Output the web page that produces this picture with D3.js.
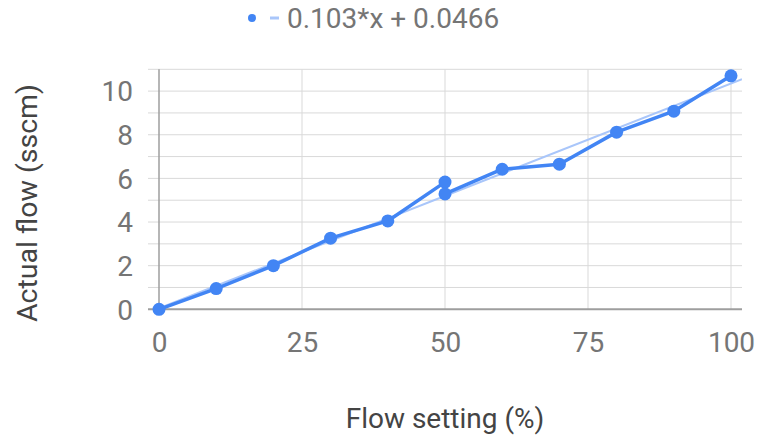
<!DOCTYPE html>
<html>
<head>
<meta charset="utf-8">
<script src="https://cdn.jsdelivr.net/npm/d3@7"></script>
<style>
  html, body { margin: 0; padding: 0; background: #fff; }
  svg { display: block; font-family: Roboto, "Noto Sans", sans-serif; }
</style>
</head>
<body>
<svg id="chart" width="758" height="439"></svg>
<script>
// Flow calibration: setting (%) vs measured flow (sscm)
const flowSetting = [0, 10, 20, 30, 40, 50, 50, 60, 70, 80, 90, 100];
const actualFlow  = [0, 0.95, 2.0, 3.26, 4.05, 5.83, 5.29, 6.42, 6.65, 8.12, 9.08, 10.70];

// Linear trendline as stated in the legend
const trendSlope = 0.103;
const trendIntercept = 0.0466;
const trendLabel = "0.103*x + 0.0466";

const xTicks = [0, 25, 50, 75, 100];
const yTicks = [0, 2, 4, 6, 8, 10];
const yGrid  = [0, 1, 2, 3, 4, 5, 6, 7, 8, 9, 10, 11];

const xTitle = "Flow setting (%)";
const yTitle = "Actual flow (sscm)";

const blue = "#4285f4";
const trendColor = "#a9c6fa";
const tickColor = "#757575";
const titleColor = "#444444";
const fontSize = 28;

const svg = d3.select("#chart");

// chart area
const area = { left: 148, right: 742, top: 69.3, bottom: 309.3 };

const x = d3.scaleLinear().domain([0, 100]).range([159, 731]);
const y = d3.scaleLinear().domain([0, 11]).range([area.bottom, area.top]);

svg.append("defs").append("clipPath").attr("id", "plotClip")
  .append("rect")
  .attr("x", area.left).attr("y", area.top)
  .attr("width", area.right - area.left).attr("height", area.bottom - area.top);

// horizontal gridlines
svg.append("g")
  .selectAll("line").data(yGrid.filter(d => d !== 0)).join("line")
  .attr("x1", area.left).attr("x2", area.right)
  .attr("y1", d => y(d)).attr("y2", d => y(d))
  .attr("stroke", "#d9d9d9").attr("stroke-width", 1);

// vertical gridlines
svg.append("g")
  .selectAll("line").data(xTicks.filter(d => d !== 0)).join("line")
  .attr("x1", d => x(d)).attr("x2", d => x(d))
  .attr("y1", area.top).attr("y2", area.bottom)
  .attr("stroke", "#d9d9d9").attr("stroke-width", 1);

// x = 0 baseline
svg.append("line")
  .attr("x1", x(0)).attr("x2", x(0))
  .attr("y1", area.top).attr("y2", area.bottom)
  .attr("stroke", "#9e9e9e").attr("stroke-width", 1.5);

// y = 0 baseline
svg.append("line")
  .attr("x1", area.left).attr("x2", area.right)
  .attr("y1", y(0)).attr("y2", y(0))
  .attr("stroke", "#9e9e9e").attr("stroke-width", 2);

// y tick labels
const yAxis = d3.axisLeft(y).tickValues(yTicks).tickSize(0).tickPadding(0);
const yAxisG = svg.append("g").attr("transform", "translate(133,0)").call(yAxis);
yAxisG.select(".domain").remove();
yAxisG.selectAll("text")
  .attr("font-size", fontSize).attr("fill", tickColor)
  .attr("font-family", "Roboto, sans-serif")
  .attr("dy", "0.35em");

// x tick labels
const xAxis = d3.axisBottom(x).tickValues(xTicks).tickSize(0).tickPadding(0);
const xAxisG = svg.append("g").attr("transform", "translate(0,332)").call(xAxis);
xAxisG.select(".domain").remove();
xAxisG.selectAll("text")
  .attr("font-size", fontSize).attr("fill", tickColor)
  .attr("font-family", "Roboto, sans-serif")
  .attr("dy", "0.71em");

// trendline across the chart area
const plot = svg.append("g").attr("clip-path", "url(#plotClip)");
const trendX = [x.invert(area.left), x.invert(area.right)];
plot.append("path")
  .datum(trendX)
  .attr("d", d3.line().x(d => x(d)).y(d => y(trendSlope * d + trendIntercept)))
  .attr("fill", "none").attr("stroke", trendColor).attr("stroke-width", 2);

// data line and points
const pts = flowSetting.map((d, i) => [d, actualFlow[i]]);
svg.append("path")
  .datum(pts)
  .attr("d", d3.line().x(d => x(d[0])).y(d => y(d[1])))
  .attr("fill", "none").attr("stroke", blue).attr("stroke-width", 3.5)
  .attr("stroke-linejoin", "round");

svg.append("g").selectAll("circle").data(pts).join("circle")
  .attr("cx", d => x(d[0])).attr("cy", d => y(d[1]))
  .attr("r", 6.5).attr("fill", blue);

// axis titles
svg.append("text")
  .attr("x", 445).attr("y", 428)
  .attr("text-anchor", "middle")
  .attr("font-size", fontSize).attr("fill", titleColor)
  .text(xTitle);

svg.append("text")
  .attr("transform", "translate(37,203) rotate(-90)")
  .attr("text-anchor", "middle")
  .attr("font-size", 28.5).attr("fill", titleColor)
  .text(yTitle);

// legend
const legend = svg.append("g");
legend.append("circle").attr("cx", 252).attr("cy", 18).attr("r", 4).attr("fill", blue);
legend.append("line")
  .attr("x1", 270).attr("x2", 279).attr("y1", 18).attr("y2", 18)
  .attr("stroke", trendColor).attr("stroke-width", 3);
legend.append("text")
  .attr("x", 287).attr("y", 28)
  .attr("font-size", fontSize).attr("fill", tickColor)
  .text(trendLabel);
</script>
</body>
</html>
